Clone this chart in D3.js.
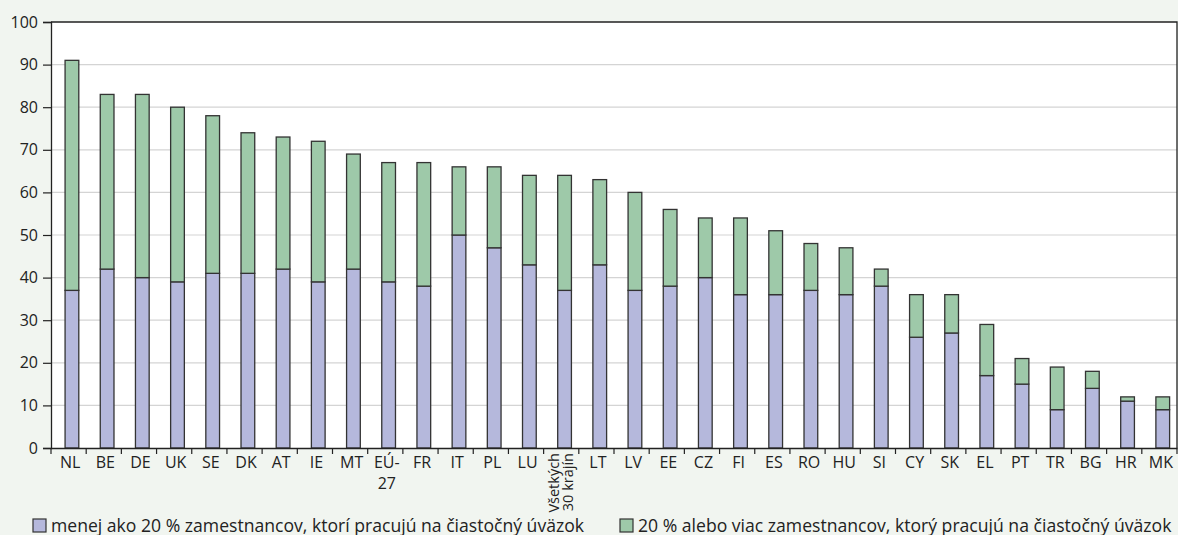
<!DOCTYPE html>
<html><head><meta charset="utf-8">
<script src="https://cdn.jsdelivr.net/npm/d3@7"></script>
<style>
html,body{margin:0;padding:0;background:#f1f5f0;}
svg{display:block;font-family:"Open Sans","Noto Sans",sans-serif;}
</style></head><body>
<svg id="c" width="1178" height="535"></svg>
<script>
const categories = ["NL","BE","DE","UK","SE","DK","AT","IE","MT","EÚ-27","FR","IT","PL","LU","Všetkých 30 krajín","LT","LV","EE","CZ","FI","ES","RO","HU","SI","CY","SK","EL","PT","TR","BG","HR","MK"];
const lessThan20 = [37,42,40,39,41,41,42,39,42,39,38,50,47,43,37,43,37,38,40,36,36,37,36,38,26,27,17,15,9,14,11,9];
const totals     = [91,83,83,80,78,74,73,72,69,67,67,66,66,64,64,63,60,56,54,54,51,48,47,42,36,36,29,21,19,18,12,12];
const yTicks = [0,10,20,30,40,50,60,70,80,90,100];
const seriesNames = ["menej ako 20 % zamestnancov, ktorí pracujú na čiastočný úväzok","20 % alebo viac zamestnancov, ktorý pracujú na čiastočný úväzok"];
const colors = ["#b5b8dc","#9ec9a9"];

const data = categories.map((c,i)=>({cat:c, a:lessThan20[i], b:totals[i]-lessThan20[i]}));
const stack = d3.stack().keys(["a","b"])(data);

const L=51, R=1177, T=22, B=448;
const svg = d3.select("#c");
const x = d3.scaleBand().domain(categories).range([L,R]).padding(0);
const y = d3.scaleLinear().domain([0,100]).range([B,T]);
const bw = x.bandwidth();

svg.append("rect").attr("x",L).attr("y",T).attr("width",R-L).attr("height",B-T).attr("fill","#fff");
svg.append("g").selectAll("line").data(yTicks.filter(d=>d>0&&d<100)).join("line")
  .attr("x1",L).attr("x2",R).attr("y1",d=>y(d)).attr("y2",d=>y(d))
  .attr("stroke","#d4d4d4").attr("stroke-width",1.2);
svg.append("path").attr("d",`M${L},${T}H${R}V${B}`).attr("fill","none").attr("stroke","#222").attr("stroke-width",1.3);

svg.append("g").selectAll("g").data(stack).join("g").attr("fill",(d,i)=>colors[i])
  .selectAll("rect").data(d=>d).join("rect")
  .attr("x",d=>x(d.data.cat)+bw*0.4).attr("width",bw*0.39)
  .attr("y",d=>y(d[1])).attr("height",d=>y(d[0])-y(d[1]))
  .attr("stroke","#333").attr("stroke-width",1.3);

// y axis
const ya = svg.append("g").attr("transform",`translate(${L},0)`)
  .call(d3.axisLeft(y).tickValues(yTicks).tickSize(8).tickPadding(5));
ya.select(".domain").attr("stroke","#222").attr("stroke-width",1.3);
ya.selectAll(".tick line").attr("stroke","#222").attr("stroke-width",1.2);
ya.selectAll("text").attr("font-size","16px").attr("fill","#222").attr("font-family","'Open Sans'");

// x axis
const xa = svg.append("g").attr("transform",`translate(0,${B})`)
  .call(d3.axisBottom(x).tickValues([]).tickSizeOuter(0));
xa.select(".domain").attr("stroke","#222").attr("stroke-width",1.3);
xa.selectAll(".bt").data(categories.concat(["_end"])).join("line")
  .attr("x1",(d,i)=>L+i*bw).attr("x2",(d,i)=>L+i*bw).attr("y1",0).attr("y2",6)
  .attr("stroke","#222").attr("stroke-width",1.2);
const lab = xa.selectAll(".lab").data(categories).join("g")
  .attr("transform",d=>`translate(${x(d)+bw/2+1.5},0)`);
lab.each(function(d){
  const g=d3.select(this);
  if(d==="EÚ-27"){
    g.append("text").attr("y",20).attr("text-anchor","middle").text("EÚ-");
    g.append("text").attr("y",41).attr("text-anchor","middle").text("27");
  } else if(d.startsWith("Všetkých")){
    const t=g.append("text").attr("transform","rotate(-90)").attr("text-anchor","end").attr("font-size","14.5px");
    t.append("tspan").attr("x",-5).attr("y",-4).text("Všetkých");
    t.append("tspan").attr("x",-5).attr("y",10.5).text("30 krajín");
  } else {
    g.append("text").attr("y",20).attr("text-anchor","middle").text(d);
  }
});
xa.selectAll("text").attr("fill","#222").attr("font-family","'Open Sans'").filter(function(){return !this.getAttribute("font-size");}).attr("font-size","16px");

// legend
const lg = svg.append("g");
const lx=[33,620];
seriesNames.forEach((n,i)=>{
  lg.append("rect").attr("x",lx[i]).attr("y",519).attr("width",13).attr("height",13)
    .attr("fill",colors[i]).attr("stroke","#333").attr("stroke-width",1.2);
  lg.append("text").attr("x",lx[i]+18).attr("y",531.5).attr("font-size","17.6px").attr("fill","#222").text(n);
});
</script></body></html>
